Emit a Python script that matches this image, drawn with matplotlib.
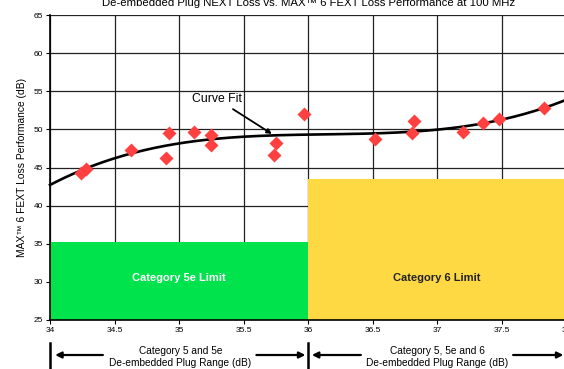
import numpy as np
import matplotlib
matplotlib.use('Agg')
from matplotlib import pyplot as plt
from matplotlib import patches
from matplotlib import transforms


# measured plug NEXT loss (dB) vs. FEXT loss performance (dB)
plug_next = [34.24, 34.28, 34.63, 34.90, 34.92, 35.12, 35.25, 35.25, 35.74, 35.75,
             35.97, 36.52, 36.81, 36.82, 37.20, 37.36, 37.48, 37.83]
fext_loss = [44.3, 44.8, 47.3, 46.3, 49.5, 49.7, 49.2, 47.95, 46.6, 48.2,
             52.0, 48.7, 49.5, 51.1, 49.7, 50.9, 51.3, 52.75]

# limit boxes: (x start, x end, limit value, label)
limits = [(34.0, 36.0, 35.2, 'Category 5e Limit'),
          (36.0, 38.0, 43.45, 'Category 6 Limit')]

x_ticks = [34, 34.5, 35, 35.5, 36, 36.5, 37, 37.5, 38]
x_tick_labels = ['34', '34.5', '35', '35.5', '36', '36.5', '37', '37.5', '38']
y_ticks = [25, 30, 35, 40, 45, 50, 55, 60, 65]

range_labels = ['Category 5 and 5e\nDe-embedded Plug Range (dB)',
                'Category 5, 5e and 6\nDe-embedded Plug Range (dB)']


def main():
    plt.rcParams['font.family'] = ['Liberation Sans', 'DejaVu Sans']
    narrow = ['Liberation Sans Narrow', 'Liberation Sans']

    fig = plt.figure(figsize=(5.64, 3.69), dpi=100)
    ax = fig.add_axes([50 / 564, 1 - 320 / 369, 516 / 564, 305 / 369])

    ax.set_xlim(34, 38)
    ax.set_ylim(25, 65)
    ax.set_xticks(x_ticks)
    ax.set_xticklabels(x_tick_labels)
    ax.set_yticks(y_ticks)
    ax.grid(True, color='#222222', lw=0.9)
    ax.set_axisbelow(True)
    for side in ['top', 'right']:
        ax.spines[side].set_visible(False)
    for side in ['left', 'bottom']:
        ax.spines[side].set_linewidth(1.2)
    ax.tick_params(labelsize=6, length=3, width=0.8, pad=2)
    for lab in ax.get_xticklabels() + ax.get_yticklabels():
        lab.set_fontfamily(narrow)

    colors = ['#00e34d', '#ffd944']
    text_colors = ['white', '#222222']
    for (x0, x1, top, name), fc, tc in zip(limits, colors, text_colors):
        ax.add_patch(patches.Rectangle((x0, 25), x1 - x0, top - 25, fc=fc, ec='none', zorder=2))
        ax.text((x0 + x1) / 2, 30.5, name, ha='center', va='center', color=tc,
                fontsize=8, fontweight='bold', zorder=3, family=narrow)

    # cubic curve fit through the measurements
    coef = np.polyfit(plug_next, fext_loss, 3)
    xs = np.linspace(34, 38, 200)
    ax.plot(xs, np.polyval(coef, xs), color='black', lw=1.9, zorder=4, clip_on=False)

    ax.plot(plug_next, fext_loss, 'D', color='#ff4040', ms=7.5, mec='none', zorder=5)

    ax.annotate('Curve Fit', xy=(35.72, np.polyval(coef, 35.72) + 0.2), xytext=(35.1, 54.0),
                fontsize=8.8, va='center', ha='left', zorder=6, family=narrow,
                arrowprops=dict(arrowstyle='-|>', color='black', lw=1.3,
                                mutation_scale=7, shrinkA=2, shrinkB=0))

    ax.set_ylabel('MAX\u2122 6 FEXT Loss Performance (dB)', fontsize=7.4, labelpad=5)

    fig.text(0.547, 0.992, 'De-embedded Plug NEXT Loss vs. MAX\u2122 6 FEXT Loss Performance at 100 MHz',
             ha='center', va='center', fontsize=8.2)

    # range brackets under the x axis
    trans = transforms.blended_transform_factory(ax.transData, fig.transFigure)
    y_arrow = 1 - 355 / 369
    for xb in [34.0, 36.0]:
        ax.plot([xb, xb], [1 - 343 / 369, 0], color='black', lw=1.8,
                transform=trans, clip_on=False)
    arrows = [(34.41, 34.04), (35.60, 35.98), (36.41, 36.03), (37.59, 37.98)]
    for tail, head in arrows:
        ax.annotate('', xy=(head, y_arrow), xytext=(tail, y_arrow),
                    xycoords=trans, textcoords=trans,
                    arrowprops=dict(arrowstyle='-|>', color='black', lw=1.6,
                                    mutation_scale=9, shrinkA=0, shrinkB=0))
    for xc, label in zip([35.01, 37.0], range_labels):
        ax.text(xc, 1 - 357 / 369, label, transform=trans, ha='center', va='center',
                fontsize=7.3, linespacing=1.15, family=narrow)

    fig.savefig('out.png', dpi=100)


if __name__ == '__main__':
    main()
